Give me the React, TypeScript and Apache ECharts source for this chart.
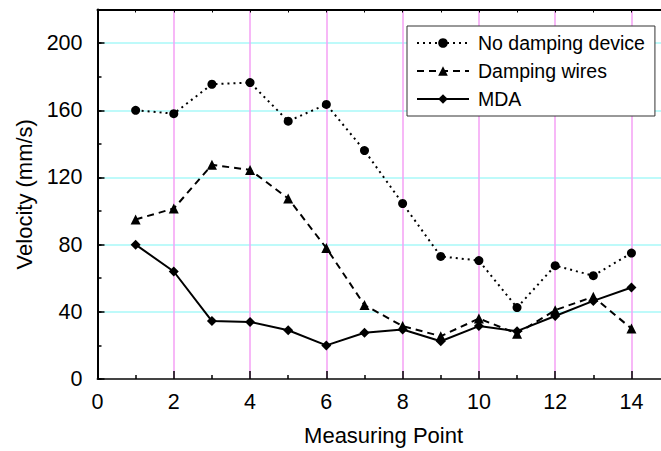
import React, { useEffect, useRef } from "react";
import * as echarts from "echarts";

const points = [1, 2, 3, 4, 5, 6, 7, 8, 9, 10, 11, 12, 13, 14];
const noDamping = [160, 158, 175.5, 176.5, 153.5, 163.5, 136, 104.5, 73, 70.5, 42.5, 67.5, 61.5, 75];
const dampingWires = [95, 101.5, 127.5, 124.5, 107.5, 78, 44, 31.5, 25.5, 36, 27, 41, 49, 30];
const mda = [80, 64, 34.5, 34, 29, 20, 27.5, 29.5, 22.5, 31.5, 28.5, 37.5, 46.5, 54.5];
const seriesNames = ["No damping device", "Damping wires", "MDA"];

const FONT = "'Liberation Sans', Arial, sans-serif";

export default function App() {
  const ref = useRef<HTMLDivElement>(null);
  useEffect(() => {
    if (!ref.current) return;
    const chart = echarts.init(ref.current, null, { renderer: "svg" });
    const toPairs = (arr: number[]) => points.map((p, i) => [p, arr[i]]);
    const unit = 38.14;
    chart.setOption({
      animation: false,
      backgroundColor: "#ffffff",
      textStyle: { fontFamily: FONT },
      grid: { left: 97.5, top: 9.5, width: unit * 15, height: 373.2, containLabel: false },
      legend: {
        orient: "vertical",
        left: 407,
        top: 26,
        backgroundColor: "#ffffff",
        borderColor: "#333333",
        borderWidth: 1,
        padding: [3, 10, 3, 9],
        itemWidth: 52,
        itemHeight: 12,
        itemGap: 0,
        textStyle: { fontSize: 19.5, fontFamily: FONT, color: "#000", lineHeight: 28, padding: [0, 0, 0, 4] },
        data: seriesNames,
      },
      xAxis: [
        {
          type: "value",
          position: "bottom",
          min: 0,
          max: 15,
          interval: 2,
          name: "Measuring Point",
          nameLocation: "middle",
          nameGap: 45,
          nameTextStyle: { fontSize: 22, color: "#000", fontFamily: FONT },
          axisLine: { show: true, onZero: false, lineStyle: { color: "#444", width: 2 } },
          axisTick: { show: true, inside: true, length: 8, lineStyle: { color: "#000", width: 1.5 } },
          minorTick: { show: true, splitNumber: 2, length: 4, lineStyle: { color: "#000", width: 1.5 } },
          axisLabel: {
            fontSize: 21.5,
            color: "#000",
            margin: 12,
            fontFamily: FONT,
            formatter: (v: number) => (v > 14 ? "" : String(v)),
          },
          splitLine: { show: true, lineStyle: { color: "#f5a0f5", width: 1.5 } },
        },
        {
          type: "value",
          position: "top",
          min: 0,
          max: 15,
          interval: 1,
          axisLine: { show: true, onZero: false, lineStyle: { color: "#000", width: 2 } },
          axisTick: { show: true, inside: true, length: 3, lineStyle: { color: "#000", width: 1 } },
          axisLabel: { show: false },
          splitLine: { show: false },
        },
      ],
      yAxis: [
        {
          type: "value",
          position: "left",
          min: 0,
          max: 220,
          interval: 40,
          name: "Velocity (mm/s)",
          nameLocation: "middle",
          nameGap: 60,
          nameTextStyle: { fontSize: 22, color: "#000", fontFamily: FONT },
          axisLine: { show: true, onZero: false, lineStyle: { color: "#000", width: 2 } },
          axisTick: { show: true, inside: true, length: 7, lineStyle: { color: "#000", width: 1.5 } },
          axisLabel: {
            fontSize: 21.5,
            color: "#000",
            margin: 15,
            fontFamily: FONT,
            formatter: (v: number) => (v > 200 ? "" : String(v)),
          },
          splitLine: { show: true, lineStyle: { color: "#a8f8f8", width: 1.5 } },
        },
        {
          type: "value",
          position: "left",
          min: 0,
          max: 220,
          interval: 20,
          axisLine: { show: false },
          axisTick: { show: true, inside: true, length: 4, lineStyle: { color: "#000", width: 1.5 } },
          axisLabel: { show: false },
          splitLine: { show: false },
        },
      ],
      series: [
        {
          name: seriesNames[0],
          type: "line",
          xAxisIndex: 0,
          yAxisIndex: 0,
          data: toPairs(noDamping),
          symbol: "circle",
          symbolSize: 9,
          itemStyle: { color: "#000" },
          lineStyle: { color: "#000", width: 2, type: [2, 4] },
        },
        {
          name: seriesNames[1],
          type: "line",
          xAxisIndex: 0,
          yAxisIndex: 0,
          data: toPairs(dampingWires),
          symbol: "triangle",
          symbolSize: 10,
          itemStyle: { color: "#000" },
          lineStyle: { color: "#000", width: 2, type: [7, 5] },
        },
        {
          name: seriesNames[2],
          type: "line",
          xAxisIndex: 0,
          yAxisIndex: 0,
          data: toPairs(mda),
          symbol: "diamond",
          symbolSize: 10,
          itemStyle: { color: "#000" },
          lineStyle: { color: "#000", width: 2 },
        },
      ],
    });
    return () => chart.dispose();
  }, []);
  return (
    <div
      ref={ref}
      style={{ position: "fixed", left: 0, top: 0, width: 720, height: 451, background: "#fff" }}
    />
  );
}
